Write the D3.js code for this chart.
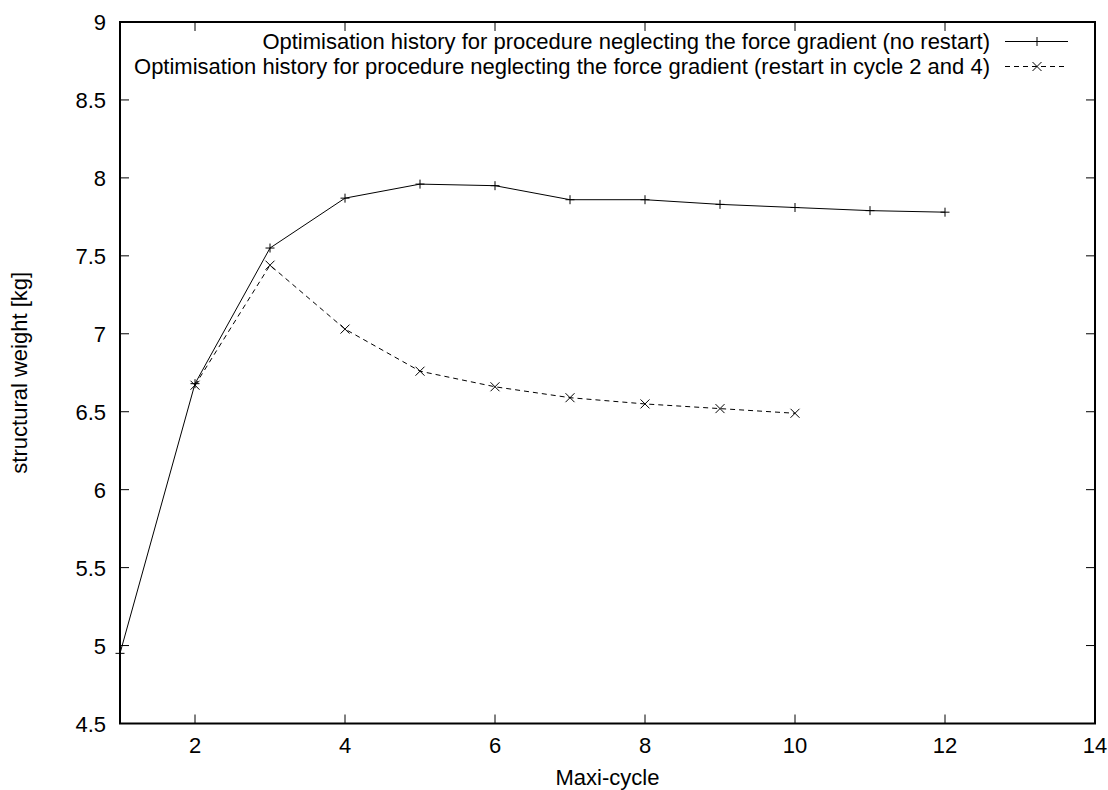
<!DOCTYPE html>
<html>
<head>
<meta charset="utf-8">
<script src="https://cdn.jsdelivr.net/npm/d3@7"></script>
<style>
  body { margin: 0; background: #fff; }
  svg text { font-family: "Liberation Sans", Arial, sans-serif; font-size: 22px; fill: #000; }
</style>
</head>
<body>
<div class="container"></div>
<script>
// data
const cyclesA = [1, 2, 3, 4, 5, 6, 7, 8, 9, 10, 11, 12]
const weightA = [4.95, 6.68, 7.55, 7.87, 7.96, 7.95, 7.86, 7.86, 7.83, 7.81, 7.79, 7.78]
const cyclesB = [2, 3, 4, 5, 6, 7, 8, 9, 10]
const weightB = [6.67, 7.44, 7.03, 6.76, 6.66, 6.59, 6.55, 6.52, 6.49]
const xTicks = [2, 4, 6, 8, 10, 12, 14]
const yTicks = [4.5, 5, 5.5, 6, 6.5, 7, 7.5, 8, 8.5, 9]
const labelA = 'Optimisation history for procedure neglecting the force gradient (no restart)'
const labelB = 'Optimisation history for procedure neglecting the force gradient (restart in cycle 2 and 4)'

const width = 1108
const height = 790
const margin = {"top": 22, "right": 13, "bottom": 66.5, "left": 120}
const tick = 9

const svg = d3.select(".container")
    .append("svg")
    .attr("width", width)
    .attr("height", height)

const x = d3.scaleLinear().domain([1, 14]).range([margin.left, width - margin.right])
const y = d3.scaleLinear().domain([4.5, 9]).range([height - margin.bottom, margin.top])

const x0 = x.range()[0], x1 = x.range()[1]
const y0 = y.range()[0], y1 = y.range()[1]

// axes: gnuplot style, ticks mirrored inward on all sides
const axes = svg.append('g').attr('stroke', '#000').attr('stroke-width', 1)
xTicks.forEach(t => {
    if (t === 14) return
    axes.append('line').attr('x1', x(t)).attr('x2', x(t)).attr('y1', y0).attr('y2', y0 - tick)
    axes.append('line').attr('x1', x(t)).attr('x2', x(t)).attr('y1', y1).attr('y2', y1 + tick)
})
yTicks.forEach(t => {
    if (t === 4.5 || t === 9) return
    axes.append('line').attr('x1', x0).attr('x2', x0 + tick).attr('y1', y(t)).attr('y2', y(t))
    axes.append('line').attr('x1', x1).attr('x2', x1 - tick).attr('y1', y(t)).attr('y2', y(t))
})

svg.append('g').selectAll('text').data(xTicks).enter().append('text')
    .attr('x', d => x(d)).attr('y', y0 + 29.5)
    .attr('text-anchor', 'middle')
    .text(d => d)
svg.append('g').selectAll('text').data(yTicks).enter().append('text')
    .attr('x', x0 - 14).attr('y', d => y(d) + 8)
    .attr('text-anchor', 'end')
    .text(d => d)

svg.append('text').attr('x', (x0 + x1) / 2).attr('y', 785).attr('text-anchor', 'middle').text('Maxi-cycle')
svg.append('text')
    .attr('transform', `translate(27, ${(y0 + y1) / 2}) rotate(-90)`)
    .attr('text-anchor', 'middle')
    .text('structural weight [kg]')

// series
const line = d3.line().x(d => x(d[0])).y(d => y(d[1]))
const dataA = cyclesA.map((c, i) => [c, weightA[i]])
const dataB = cyclesB.map((c, i) => [c, weightB[i]])

const plus = (g, cx, cy) => {
    g.append('path').attr('d', `M${cx - 4.5},${cy}H${cx + 4.5}M${cx},${cy - 4.5}V${cy + 4.5}`)
        .attr('stroke', '#000').attr('fill', 'none')
}
const cross = (g, cx, cy) => {
    g.append('path').attr('d', `M${cx - 4.5},${cy - 4.5}L${cx + 4.5},${cy + 4.5}M${cx - 4.5},${cy + 4.5}L${cx + 4.5},${cy - 4.5}`)
        .attr('stroke', '#000').attr('fill', 'none')
}

const gA = svg.append('g')
gA.append('path').datum(dataA).attr('d', line).attr('fill', 'none').attr('stroke', '#000').attr('stroke-width', 1)
dataA.forEach(d => plus(gA, x(d[0]), y(d[1])))

const gB = svg.append('g')
gB.append('path').datum(dataB).attr('d', line).attr('fill', 'none').attr('stroke', '#000')
    .attr('stroke-width', 1).attr('stroke-dasharray', '5,4')
dataB.forEach(d => cross(gB, x(d[0]), y(d[1])))

// legend
const legend = svg.append('g').attr('id', 'legend')
const lx = 990, ly = [41.5, 66.5]
legend.append('text').attr('x', lx).attr('y', ly[0] + 7.5).attr('text-anchor', 'end').text(labelA)
legend.append('text').attr('x', lx).attr('y', ly[1] + 7.5).attr('text-anchor', 'end').text(labelB)
legend.append('line').attr('x1', 1005).attr('x2', 1068).attr('y1', ly[0]).attr('y2', ly[0]).attr('stroke', '#000')
plus(legend, 1037, ly[0])
legend.append('line').attr('x1', 1005).attr('x2', 1068).attr('y1', ly[1]).attr('y2', ly[1]).attr('stroke', '#000')
    .attr('stroke-dasharray', '5,4')
cross(legend, 1037, ly[1])

// frame on top
svg.append('rect').attr('x', x0).attr('y', y1).attr('width', x1 - x0).attr('height', y0 - y1)
    .attr('fill', 'none').attr('stroke', '#000').attr('stroke-width', 2)
</script>
</body>
</html>
